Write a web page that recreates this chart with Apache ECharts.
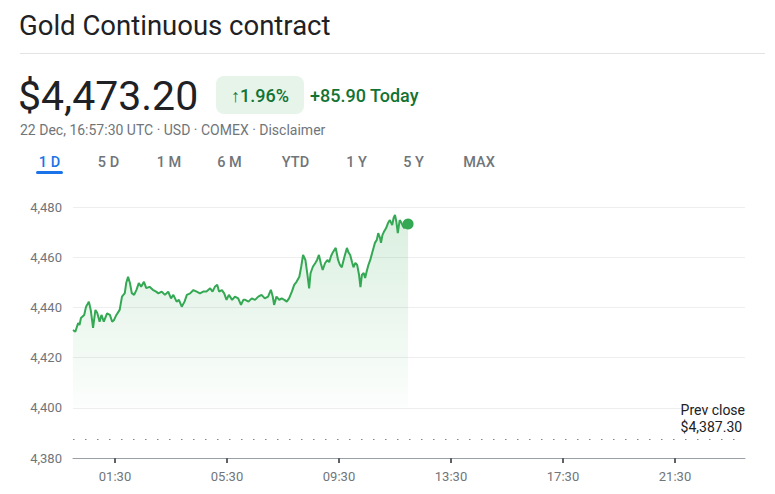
<!DOCTYPE html>
<html><head><meta charset="utf-8">
<script src="https://cdn.jsdelivr.net/npm/echarts@6/dist/echarts.min.js"></script>
<style>html,body{margin:0;padding:0;background:#fff}#c{width:775px;height:494px}</style>
</head><body><div id="c"></div>
<script>
// ---- data ----
const times = ['00:00','00:05','00:11','00:14','00:17','00:24','00:28','00:34','00:38','00:43','00:48','00:52','00:57','01:01','01:06','01:13','01:19','01:24','01:28','01:33','01:40','01:45','01:51','01:54','01:58','02:02','02:06','02:11','02:16','02:21','02:26','02:32','02:37','02:44','02:51','02:58','03:03','03:10','03:17','03:24','03:30','03:35','03:42','03:47','03:53','03:59','04:04','04:11','04:18','04:25','04:32','04:39','04:46','04:54','04:59','05:04','05:09','05:13','05:19','05:24','05:29','05:34','05:41','05:47','05:54','06:00','06:05','06:09','06:16','06:23','06:30','06:37','06:44','06:51','06:58','07:04','07:08','07:11','07:16','07:22','07:27','07:33','07:38','07:43','07:49','07:54','07:59','08:05','08:09','08:13','08:18','08:22','08:26','08:29','08:34','08:39','08:43','08:47','08:51','08:55','09:00','09:05','09:09','09:13','09:17','09:23','09:28','09:32','09:36','09:41','09:47','09:50','09:54','09:58','10:01','10:05','10:09','10:13','10:16','10:19','10:23','10:26','10:29','10:33','10:37','10:41','10:44','10:47','10:51','10:54','10:58','11:00','11:03','11:06','11:11','11:15','11:19','11:24','11:27','11:30','11:33','11:36','11:40','11:43','11:47','11:50','11:54','11:58'];
const prices = [4431.0,4430.3,4433.8,4433.0,4435.8,4437.0,4440.3,4442.3,4439.0,4431.8,4439.0,4437.8,4434.3,4437.0,4434.3,4437.6,4437.0,4434.3,4435.0,4437.0,4439.0,4444.3,4445.7,4449.7,4452.2,4449.7,4445.7,4445.0,4447.0,4449.7,4448.2,4450.2,4447.7,4448.2,4447.0,4446.3,4445.6,4446.3,4445.0,4446.3,4443.6,4445.0,4442.3,4443.0,4440.3,4442.3,4445.0,4445.6,4446.9,4446.3,4445.6,4446.3,4446.3,4447.6,4446.3,4448.2,4449.0,4446.3,4446.9,4445.6,4443.0,4445.0,4443.0,4444.3,4443.6,4441.0,4443.0,4443.0,4442.3,4443.6,4443.0,4444.3,4445.0,4443.6,4444.3,4447.0,4444.3,4441.0,4444.3,4443.0,4443.6,4443.0,4442.3,4443.6,4446.3,4449.0,4450.2,4452.2,4456.2,4460.9,4458.9,4453.6,4447.6,4453.6,4456.2,4457.6,4458.9,4460.9,4457.6,4454.9,4457.6,4458.9,4458.0,4460.5,4462.0,4463.7,4458.9,4456.9,4456.0,4459.7,4463.7,4462.0,4460.9,4458.0,4456.0,4457.7,4456.9,4452.9,4448.1,4452.9,4453.7,4451.7,4454.1,4456.9,4458.9,4461.7,4463.7,4465.7,4466.9,4469.6,4467.6,4465.7,4468.8,4470.0,4471.6,4473.6,4474.8,4472.8,4475.6,4476.8,4474.0,4469.6,4474.8,4474.0,4472.4,4471.6,4473.2,4473.2];
const xTickLabels = ['01:30','05:30','09:30','13:30','17:30','21:30'];
const yMin = 4380, yMax = 4480, yStep = 20;
const prevClose = 4387.30;
const headerTitle = 'Gold Continuous contract';
const priceText = '$4,473.20';
const changePct = '\u21911.96%';
const changeAbs = '+85.90 Today';
const subLine = '22 Dec, 16:57:30 UTC \u00b7 USD \u00b7 COMEX \u00b7 Disclaimer';
const tabs = ['1 D','5 D','1 M','6 M','YTD','1 Y','5 Y','MAX'];
const tabCenters = [49.5,108.5,169,229.5,295.5,356.5,413.5,479];

// ---- build ----
const toMin = s => parseInt(s.slice(0,2),10)*60 + parseInt(s.slice(3),10);
const pad = n => (n<10?'0':'')+n;
const fmtMin = m => pad(Math.floor(m/60)) + ':' + pad(m%60);
const seriesData = times.map((t,i)=>[toMin(t), prices[i]]);
const lastPt = seriesData[seriesData.length-1];
const tickVals = xTickLabels.map(toMin);

const font = 'Roboto, "Noto Sans", Arial, sans-serif';
const grey = '#70757a';
const green = '#34a853';

const graphics = [
  {type:'text', x:19, y:25, style:{text:headerTitle, font:'400 27.5px '+font, fill:'#202124', textAlign:'left', textVerticalAlign:'middle'}},
  {type:'line', shape:{x1:20,y1:53.5,x2:765,y2:53.5}, style:{stroke:'#e3e3e3', lineWidth:1}},
  {type:'text', x:18, y:96, style:{text:priceText, font:'400 41px '+font, fill:'#202124', textAlign:'left', textVerticalAlign:'middle'}},
  {type:'rect', shape:{x:216,y:76,width:88,height:38,r:8}, style:{fill:'#e6f4ea'}},
  {type:'text', x:260, y:95, style:{text:changePct, font:'500 18px '+font, fill:'#137333', textAlign:'center', textVerticalAlign:'middle'}},
  {type:'text', x:310, y:95, style:{text:changeAbs, font:'500 18px '+font, fill:'#137333', textAlign:'left', textVerticalAlign:'middle'}},
  {type:'text', x:20, y:130, style:{text:subLine, font:'400 14px '+font, fill:grey, textAlign:'left', textVerticalAlign:'middle'}},
  {type:'rect', shape:{x:36,y:171,width:27,height:3,r:1.5}, style:{fill:'#1a73e8'}}
];
tabs.forEach((t,i)=>{
  graphics.push({type:'text', x:tabCenters[i], y:162, style:{text:t, font:'500 14.5px '+font, fill: i===0?'#1a73e8':grey, textAlign:'center', textVerticalAlign:'middle'}});
});

const chart = echarts.init(document.getElementById('c'), null, {renderer:'svg'});
chart.setOption({
  animation:false,
  backgroundColor:'#ffffff',
  textStyle:{fontFamily:font},
  grid:{left:73, right:30, top:207, bottom:36, containLabel:false},
  xAxis:{
    type:'value', min:0, max:1440,
    axisLine:{show:true, lineStyle:{color:'#9aa0a6', width:1}},
    axisTick:{show:true, customValues:tickVals, length:5, lineStyle:{color:'#5f6368', width:2}},
    axisLabel:{customValues:tickVals, formatter:v=>fmtMin(v), color:grey, fontSize:13, margin:12, fontFamily:font},
    splitLine:{show:false}
  },
  yAxis:{
    type:'value', min:yMin, max:yMax, interval:yStep,
    axisLine:{show:false}, axisTick:{show:false},
    axisLabel:{formatter:v=>v.toLocaleString('en-US'), color:grey, fontSize:13, margin:11, fontFamily:font},
    splitLine:{show:true, lineStyle:{color:'#eeeeee', width:1}}
  },
  series:[
    {
      type:'line', data:seriesData, showSymbol:false, symbol:'none',
      lineStyle:{color:green, width:2},
      areaStyle:{origin:4400, color:new echarts.graphic.LinearGradient(0,0,0,1,[{offset:0,color:'rgba(52,168,83,0.26)'},{offset:1,color:'rgba(52,168,83,0.02)'}])},
      markLine:{
        silent:true, symbol:'none',
        data:[{yAxis:prevClose}],
        lineStyle:{color:'#80868b', width:1.2, type:[1.5,10.5]},
        label:{show:true, position:'insideEndTop', distance:[0,4],
          formatter:'{a|Prev close}\n{a|$'+prevClose.toLocaleString('en-US',{minimumFractionDigits:2})+'}',
          rich:{a:{color:'#202124', fontSize:14, lineHeight:17, align:'left', fontFamily:font}}}
      }
    },
    {
      type:'scatter', data:[lastPt], symbol:'circle', symbolSize:11,
      itemStyle:{color:green, opacity:1}, z:5
    }
  ],
  graphic:graphics
});
</script></body></html>
